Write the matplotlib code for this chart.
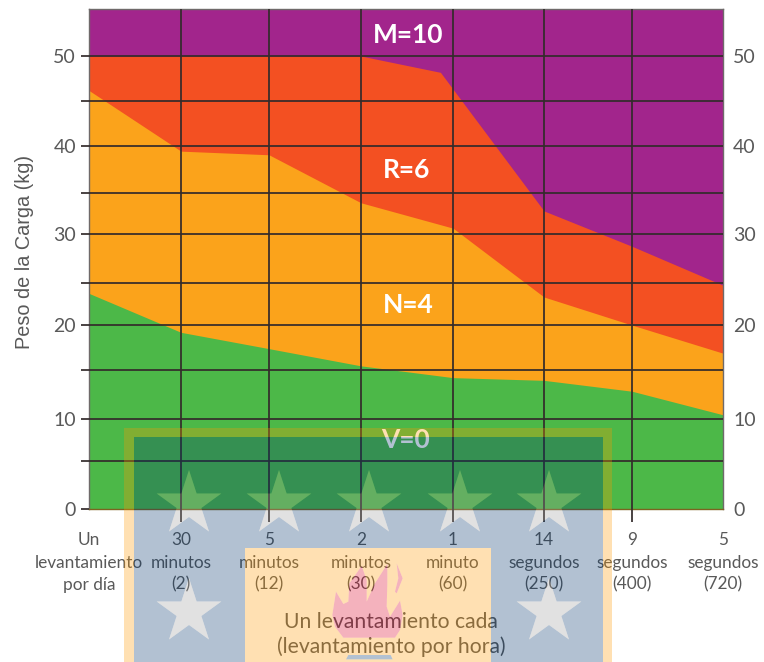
import numpy as np
import matplotlib
matplotlib.use('Agg')
import matplotlib.pyplot as plt
from matplotlib.path import Path
from matplotlib.patches import PathPatch
from matplotlib.transforms import Affine2D, ScaledTranslation

# Datos
etiquetas = ['Un\nlevantamiento\npor día', '30\nminutos\n(2)', '5\nminutos\n(12)',
             '2\nminutos\n(30)', '1\nminuto\n(60)', '14\nsegundos\n(250)',
             '9\nsegundos\n(400)', '5\nsegundos\n(720)']
pos_x = [0, 1.016, 1.987, 3.003, 4.019, 5.024, 5.995, 7]
verde = [23.8, 19.5, 17.7, 15.8, 14.5, 14.2, 13.0, 10.4]
naranja = [46.2, 39.5, 39.1, 33.8, 31.0, 23.4, 20.3, 17.2]
pos_x_rojo = [0, 3.003, 3.88, 5.024, 5.995, 7]
rojo = [50, 50, 48.2, 32.9, 29.0, 24.7]
techo = 55.19

pos_y = [0, 5.3, 9.93, 15.3, 20.3, 24.9, 30.3, 34.9, 40.1, 45.0, 50]
etq_y = ['0', '', '10', '', '20', '', '30', '', '40', '', '50']

C_M = '#A2258C'
C_R = '#F35022'
C_N = '#FBA31B'
C_V = '#4CB848'
GRIS = '#595959'
FUENTE = 'Lato'

fig = plt.figure(figsize=(7.64, 6.62), dpi=100)
ax = fig.add_axes([89/764, (662-509)/662, 634/764, 500/662])

# Zonas de riesgo
ax.fill_between([0, 7], 0, techo, color=C_M, lw=0, zorder=1)
ax.fill_between(pos_x_rojo, 0, rojo, color=C_R, lw=0, zorder=1.1)
ax.fill_between(pos_x, 0, naranja, color=C_N, lw=0, zorder=1.2)
ax.fill_between(pos_x, 0, verde, color=C_V, lw=0, zorder=1.3)

ax.set_xlim(0, 7)
ax.set_ylim(0, techo)

# Ejes y cuadricula
ax.set_xticks(pos_x, etiquetas)
ax.set_yticks(pos_y, etq_y)
ax.grid(True, color='#332b2b', lw=1.25, zorder=2)
ax.set_axisbelow(False)
ax.tick_params(axis='x', length=9.4, width=1.25, color='#332b2b', pad=7.5,
               labelsize=12.4, labelcolor=GRIS)
ax.tick_params(axis='y', length=5.8, width=1.25, color='#332b2b', pad=3.6,
               labelsize=14, labelcolor=GRIS, labelright=True, right=False)
for t in ax.get_xticklabels():
    t.set_family(FUENTE)
    t.set_linespacing(1.47)
corre = ScaledTranslation(-3/100, 0, fig.dpi_scale_trans)
for t in ax.yaxis.get_major_ticks():
    t.label1.set_family(FUENTE)
    t.label2.set_family(FUENTE)
    t.label2.set_transform(t.label2.get_transform() + corre)
ticks_x = ax.xaxis.get_major_ticks()
for i in [0, -1]:
    ticks_x[i].tick1line.set_visible(False)
    ticks_x[i].gridline.set_visible(False)
ax.yaxis.get_major_ticks()[0].gridline.set_visible(False)

for lado in ['left', 'right', 'top']:
    ax.spines[lado].set_color('#6f6a6a')
    ax.spines[lado].set_linewidth(1.0)
ax.spines['bottom'].set_color('#7d6420')
ax.spines['bottom'].set_linewidth(1.0)

ax.set_ylabel('Peso de la Carga (kg)', family='Liberation Sans', fontsize=14.3, color=GRIS)
ax.yaxis.set_label_coords(-0.087, 0.514)

# Niveles
for txt, x, y in [('M=10', 3.52, 52.3), ('R=6', 3.51, 37.4), ('N=4', 3.53, 22.5), ('V=0', 3.50, 7.6)]:
    ax.text(x, y, txt, color='white', family=FUENTE, weight='bold', fontsize=19,
            ha='center', va='center', zorder=5)

fig.text(391/764, 1-622/662, 'Un levantamiento cada', family=FUENTE, fontsize=15.2,
         color=GRIS, ha='center', va='center', zorder=1)
fig.text(391/764, 1-647/662, '(levantamiento por hora)', family=FUENTE, fontsize=15.2,
         color=GRIS, ha='center', va='center', zorder=1)


# Marca de agua (coordenadas en pixeles de la imagen)
def rect(x0, y0, x1, y1):
    return [(x0, y0), (x1, y0), (x1, y1), (x0, y1)]


def estrella(cx, cy, r=34):
    ang = np.pi/2 + np.arange(10)*np.pi/5
    rad = np.where(np.arange(10) % 2 == 0, r, r*0.382)
    return list(zip(cx + rad*np.cos(ang), cy - rad*np.sin(ang)))


def area(p):
    p = np.array(p)
    return np.sum(p[:, 0]*np.roll(p[:, 1], -1) - np.roll(p[:, 0], -1)*p[:, 1])


def capa(exterior, huecos, color):
    # los huecos van en sentido contrario al contorno
    verts = []
    codes = []
    signo = area(exterior)
    for k, poly in enumerate([exterior] + huecos):
        poly = list(poly)
        if k > 0 and area(poly)*signo > 0:
            poly = poly[::-1]
        verts += poly + [poly[0]]
        codes += [Path.MOVETO] + [Path.LINETO]*(len(poly)-1) + [Path.CLOSEPOLY]
    tr = Affine2D().scale(1/764, -1/662).translate(0, 1) + fig.transFigure
    fig.add_artist(PathPatch(Path(verts, codes), facecolor=color, edgecolor='none',
                             alpha=0.3, transform=tr, zorder=10))


def z6(puntos):
    return [(300 + x/3, 540 + y/3) for x, y in puntos]


llama = z6([(130, 293), (105, 260), (97, 225), (108, 155), (130, 192), (145, 185), (148, 130),
            (185, 78), (200, 120), (200, 185), (225, 130), (262, 72), (262, 130), (260, 200),
            (270, 230), (300, 182), (308, 225), (300, 270), (285, 293)])
llama2 = z6([(290, 70), (308, 115), (290, 160), (285, 155), (295, 115)])
base = z6([(145, 345), (272, 345), (278, 358), (138, 358)])
estrellas = [estrella(x, 504) for x in [189, 279, 369, 460, 549]] + [estrella(x, 612) for x in [189, 549]]

capa(rect(124, 428, 612, 662), [rect(134, 437, 603, 662)], '#FF9900')
capa(rect(134, 437, 603, 662), [rect(245, 548, 491, 662)] + estrellas, '#00346C')
capa(rect(245, 548, 491, 662), [llama, llama2, base], '#FF9900')
for e in estrellas:
    capa(e, [], '#9C9C9C')
capa(llama, [], '#DD0026')
capa(llama2, [], '#DD0026')
capa(base, [], '#00346C')

fig.savefig('out.png', dpi=100)
